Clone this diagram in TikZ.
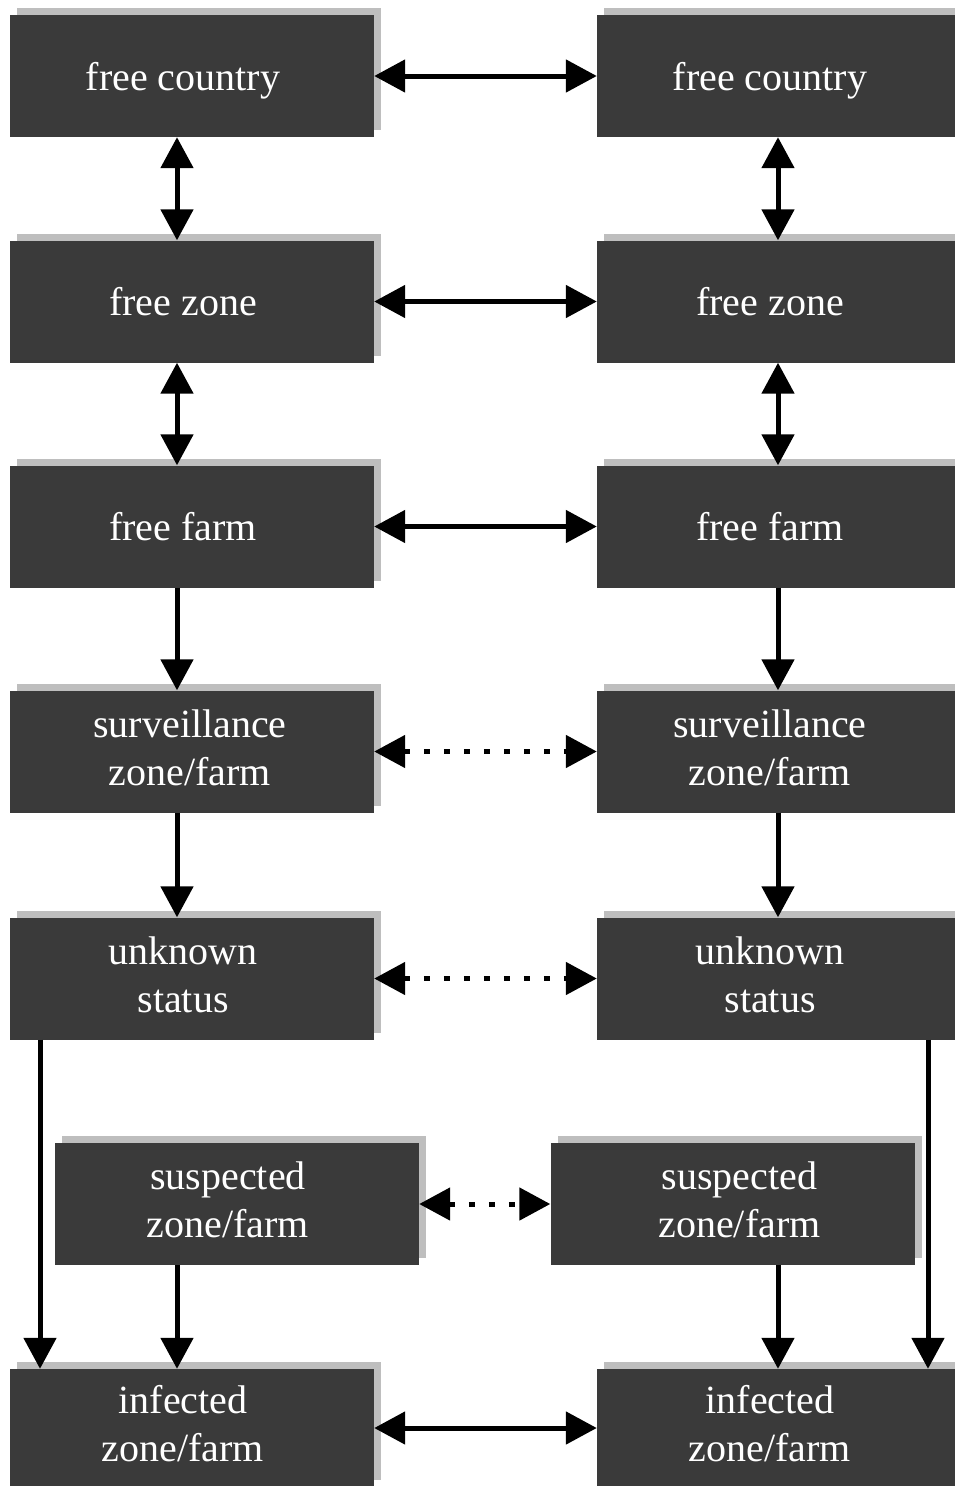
\documentclass[tikz,border=0pt]{standalone}
\usepackage{fontspec}
\setmainfont{Liberation Serif}
\usetikzlibrary{arrows.meta,shadows}
\definecolor{boxgray}{HTML}{3A3A3A}
\definecolor{shadowgray}{HTML}{BEBEBE}
\newcommand{\boxtext}[1]{\hspace*{-18pt}\begin{tabular}{@{}c@{}}#1\end{tabular}}
\newcommand{\boxtextone}[1]{\hspace*{-18pt}#1}
\tikzset{
  statebox/.style={rectangle, fill=boxgray, text=white, inner sep=0pt,
    minimum width=364pt, minimum height=122pt,
    font=\fontsize{40}{48}\selectfont,
    general shadow={fill=shadowgray, shadow xshift=7pt, shadow yshift=7pt}},
  onebox/.style={statebox, text height=29pt, text depth=1pt},
  conn/.style={line width=5pt, -{Triangle[length=31pt,width=32pt]}},
  dconn/.style={line width=5pt, {Triangle[length=31pt,width=32pt]}-{Triangle[length=31pt,width=32pt]}},
  dotconn/.style={dconn, dash pattern=on 6pt off 14pt}
}
\begin{document}
\begin{tikzpicture}[x=1pt,y=-1pt]
\useasboundingbox (0,0) rectangle (954,1486);
% left column
\node[onebox] (fc1) at (192,76) {\boxtextone{free country}};
\node[onebox] (fz1) at (192,301.5) {\boxtextone{free zone}};
\node[onebox] (ff1) at (192,526.5) {\boxtextone{free farm}};
\node[statebox] (sv1) at (192,751.5) {\hspace*{-4pt}\begin{tabular}{@{}c@{}}surveillance\\zone/farm\end{tabular}};
\node[statebox] (us1) at (192,978.5) {\boxtext{unknown\\status}};
\node[statebox] (sp1) at (237,1204) {\boxtext{suspected\\zone/farm}};
\node[statebox, minimum height=118pt] (if1) at (192,1428) {\boxtext{infected\\zone/farm}};
% right column
\node[onebox] (fc2) at (779,76) {\boxtextone{free country}};
\node[onebox] (fz2) at (779,301.5) {\boxtextone{free zone}};
\node[onebox] (ff2) at (779,526.5) {\boxtextone{free farm}};
\node[statebox] (sv2) at (779,751.5) {\boxtext{surveillance\\zone/farm}};
\node[statebox] (us2) at (779,978.5) {\boxtext{unknown\\status}};
\node[statebox] (sp2) at (732.5,1204) {\hspace*{14pt}\begin{tabular}{@{}c@{}}suspected\\zone/farm\end{tabular}};
\node[statebox, minimum height=118pt] (if2) at (779,1428) {\boxtext{infected\\zone/farm}};
% horizontal connectors
\draw[dconn] (fc1.east) -- (fc2.west);
\draw[dconn] (fz1.east) -- (fz2.west);
\draw[dconn] (ff1.east) -- (ff2.west);
\draw[dotconn] (sv1.east) -- (sv2.west);
\draw[dotconn] (us1.east) -- (us2.west);
\draw[dotconn] (sp1.east) -- (sp2.west);
\draw[dconn] (if1.east) -- (if2.west);
% vertical connectors left
\draw[dconn] ([xshift=-15pt]fc1.south) -- ([xshift=-15pt]fz1.north);
\draw[dconn] ([xshift=-15pt]fz1.south) -- ([xshift=-15pt]ff1.north);
\draw[conn] ([xshift=-15pt]ff1.south) -- ([xshift=-15pt]sv1.north);
\draw[conn] ([xshift=-15pt]sv1.south) -- ([xshift=-15pt]us1.north);
\draw[conn] ([xshift=-152pt]us1.south) -- ([xshift=-152pt]if1.north);
\draw[conn] ([xshift=-60pt]sp1.south) -- ([xshift=-15pt]if1.north);
% vertical connectors right
\draw[dconn] ([xshift=-1pt]fc2.south) -- ([xshift=-1pt]fz2.north);
\draw[dconn] ([xshift=-1pt]fz2.south) -- ([xshift=-1pt]ff2.north);
\draw[conn] ([xshift=-1pt]ff2.south) -- ([xshift=-1pt]sv2.north);
\draw[conn] ([xshift=-1pt]sv2.south) -- ([xshift=-1pt]us2.north);
\draw[conn] ([xshift=149pt]us2.south) -- ([xshift=149pt]if2.north);
\draw[conn] ([xshift=45.5pt]sp2.south) -- ([xshift=-1pt]if2.north);
\end{tikzpicture}
\end{document}
